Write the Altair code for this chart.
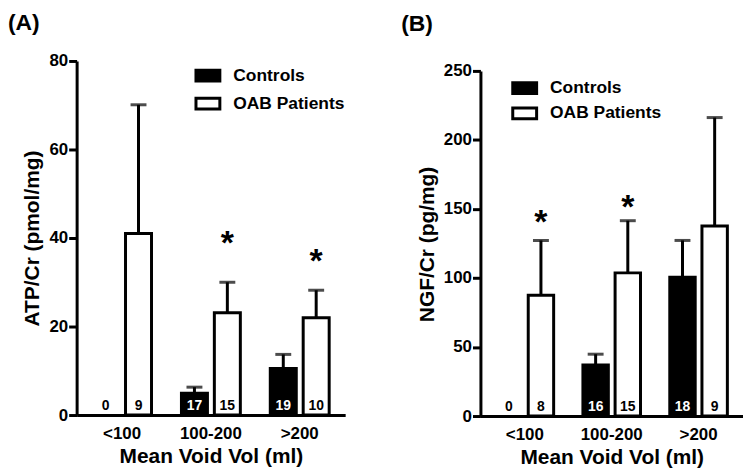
import altair as alt
import pandas as pd

groups = ["<100", "100-200", ">200"]
series = ["Controls", "OAB Patients"]

# Panel A: ATP/Cr (pmol/mg)
atp_controls = [0.0, 4.9, 10.5]
atp_controls_sem = [0.0, 1.4, 3.2]
atp_controls_n = [0, 17, 19]
atp_oab = [41.0, 23.1, 22.0]
atp_oab_sem = [29.1, 6.9, 6.2]
atp_oab_n = [9, 15, 10]
atp_star_groups = ["100-200", ">200"]
atp_star_y = [40.4, 36.4]
atp_ticks = [0, 20, 40, 60, 80]

# Panel B: NGF/Cr (pg/mg)
ngf_controls = [0.0, 36.9, 100.5]
ngf_controls_sem = [0.0, 7.9, 26.7]
ngf_controls_n = [0, 16, 18]
ngf_oab = [87.5, 103.7, 137.7]
ngf_oab_sem = [39.7, 37.8, 78.5]
ngf_oab_n = [8, 15, 9]
ngf_star_groups = ["<100", "100-200"]
ngf_star_y = [145.3, 156.4]
ngf_ticks = [0, 50, 100, 150, 200, 250]

FONT = "Liberation Sans"


def make_df(c, c_sem, c_n, o, o_sem, o_n):
    rows = []
    for i, g in enumerate(groups):
        rows.append(dict(group=g, series=series[0], value=c[i], sem=c_sem[i], n=c_n[i]))
        rows.append(dict(group=g, series=series[1], value=o[i], sem=o_sem[i], n=o_n[i]))
    df = pd.DataFrame(rows)
    df["top"] = df["value"] + df["sem"]
    df["zero"] = 0
    return df


def panel(df, star_groups, star_y, ytitle, ymax, yticks, width, height, yrange,
          title_text, title_dx, title_offset, ytitle_x, ytitle_y,
          legend_x, legend_y, legend_row_pad):
    stars = pd.DataFrame({"group": star_groups, "series": series[1], "y": star_y})

    xscale = alt.Scale(domain=groups, paddingInner=0.337, paddingOuter=0.18)
    xaxis = alt.Axis(title="Mean Void Vol (ml)", labelAngle=0, ticks=False,
                     labelPadding=11, titlePadding=4, labelFontSize=17,
                     titleFontSize=21)
    xoscale = alt.Scale(domain=series, paddingInner=0.21, paddingOuter=0)
    sc = dict(domain=[0, ymax], nice=False, zero=True)
    if yrange is not None:
        sc["range"] = yrange
    yscale = alt.Scale(**sc)
    yaxis = alt.Axis(title=ytitle, values=yticks, grid=False, tickSize=8,
                     labelPadding=1, labelFontSize=17, titleFontSize=21,
                     titleX=ytitle_x, titleY=ytitle_y, titleAngle=-90,
                     titleBaseline="alphabetic", titleAlign="center")

    def X():
        return alt.X("group:N", scale=xscale, axis=xaxis, sort=groups)

    def XO(field="series:N"):
        return alt.XOffset(field, scale=xoscale, sort=series)

    def Y(field):
        return alt.Y(field, scale=yscale, axis=yaxis)

    base = alt.Chart(df)
    bars = base.transform_filter("datum.n > 0").mark_bar(
        stroke="black", strokeWidth=3
    ).encode(
        x=X(), xOffset=XO(), y=Y("value:Q"),
        fill=alt.Fill("series:N",
                      scale=alt.Scale(domain=series, range=["black", "white"]),
                      legend=alt.Legend(
                          orient="none", legendX=legend_x, legendY=legend_y,
                          title=None, padding=0,
                          symbolType="M-1,-0.45H1V0.45H-1Z", symbolSize=576,
                          symbolStrokeColor="black", symbolStrokeWidth=3,
                          labelFontSize=17.5, labelFontWeight="bold",
                          labelColor="black", labelOffset=12,
                          rowPadding=legend_row_pad, labelFont=FONT)),
    )
    err = base.transform_filter("datum.n > 0").mark_rule(
        strokeWidth=3, color="black"
    ).encode(x=X(), xOffset=XO(), y=Y("value:Q"), y2="top:Q")
    cap = base.transform_filter("datum.n > 0").mark_tick(
        color="black", size=16, thickness=3, orient="horizontal"
    ).encode(x=X(), xOffset=XO(), y=Y("top:Q"))
    counts = base.mark_text(
        baseline="alphabetic", dy=-5, fontSize=14, fontWeight="bold", font=FONT
    ).encode(
        x=X(), xOffset=XO(), y=Y("zero:Q"), text="n:Q",
        color=alt.condition("datum.series == 'Controls' && datum.n > 0",
                            alt.value("white"), alt.value("black")),
    )
    star = alt.Chart(stars).mark_text(
        text="*", fontSize=34, fontWeight="bold", baseline="alphabetic",
        dy=18, color="black", font=FONT
    ).encode(x=X(), xOffset=XO(), y=Y("y:Q"))

    return alt.layer(bars, err, cap, counts, star).properties(
        width=width, height=height,
        title=alt.TitleParams(title_text, anchor="start", frame="group",
                              dx=title_dx, offset=title_offset, fontSize=23,
                              fontWeight="bold", font=FONT, color="black",
                              baseline="bottom"),
    )


dfA = make_df(atp_controls, atp_controls_sem, atp_controls_n,
              atp_oab, atp_oab_sem, atp_oab_n)
dfB = make_df(ngf_controls, ngf_controls_sem, ngf_controls_n,
              ngf_oab, ngf_oab_sem, ngf_oab_n)

pA = panel(dfA, atp_star_groups, atp_star_y, "ATP/Cr (pmol/mg)", 80, atp_ticks,
           270, 356, None, "(A)", -69, -6, -38.5, 178,
           118.5, 1.3, 3)
pB = panel(dfB, ngf_star_groups, ngf_star_y, "NGF/Cr (pg/mg)", 250, ngf_ticks,
           264, 357, [357, 10], "(B)", -79.7, 2.5, -47.5, 184,
           31, 13.7, 0.5)

chart = alt.hconcat(pA, pB, spacing=56).resolve_scale(
    fill="independent", x="independent", y="independent", xOffset="independent"
).resolve_legend(fill="independent").properties(
    padding={"top": 3, "left": 0, "right": 0, "bottom": 0}
).configure(
    font=FONT
).configure_view(strokeWidth=0).configure_axis(
    domainColor="black", domainWidth=3, tickColor="black", tickWidth=3,
    labelColor="black", titleColor="black", labelFontWeight="bold",
    titleFontWeight="bold", labelFont=FONT, titleFont=FONT
)

chart.save("out.html", embed_options={"renderer": "svg", "actions": False})
